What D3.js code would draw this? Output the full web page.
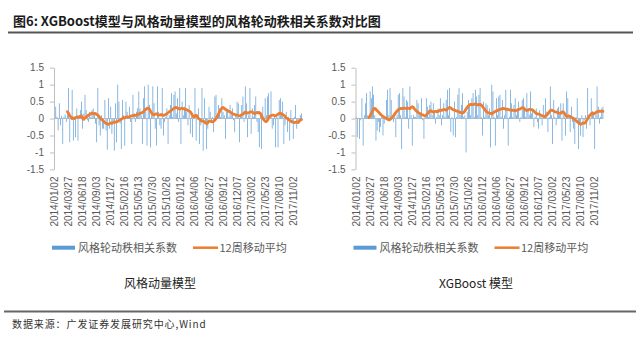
<!DOCTYPE html>
<html><head><meta charset="utf-8">
<script src="https://cdn.jsdelivr.net/npm/d3@7/dist/d3.min.js"></script>
<style>body{margin:0;background:#fff}svg{display:block}</style>
</head><body>
<svg id="chart" width="640" height="345"></svg>
<script>
// ---------------- data ----------------
const tickLabels = ["2014/01/02","2014/03/27","2014/06/18","2014/09/03","2014/11/27","2015/02/16","2015/05/13","2015/07/30","2015/10/26","2016/01/12","2016/04/06","2016/06/27","2016/09/12","2016/12/07","2017/03/02","2017/05/23","2017/08/10","2017/11/02"];
const labelEvery = 12;
const yTicks = [1.5, 1, 0.5, 0, -0.5, -1, -1.5];
const seriesNames = ["风格轮动秩相关系数", "12周移动平均"];
const panelTitles = ["风格动量模型", "XGBoost 模型"];
const maStart = 11;

const momentumBars = [
 0.5,0.35,0.05,-0.35,0.45,-0.2,0.08,-0.75,0.05,0.12,-0.1,0.2,
 0.9,-0.7,0.1,0.85,-0.65,0.05,-0.55,0.3,-0.65,0.1,0.25,0.5,
 -0.3,0.15,0.7,0.25,-0.05,-0.1,0.2,0.05,0.25,0.3,0.1,-0.15,
 -0.7,0.9,-0.2,-0.5,0.1,-0.3,-0.3,0.55,-0.35,-0.92,0.6,-0.3,
 0.35,-0.45,-0.1,-0.95,0.45,-0.7,1.0,0.5,-0.15,-0.9,0.55,0.1,
 -0.8,0.5,0.2,0.05,0.35,-0.1,-0.75,0.7,0.15,-0.1,0.2,0.3,
 0.8,0.3,0.1,-0.75,0.6,0.95,0.2,-0.8,1.0,0.4,-0.85,0.1,
 0.95,0.45,-0.3,-0.8,0.95,0.2,-0.2,-0.3,0.9,-0.5,-0.1,0.05,
 0.3,-0.75,0.1,0.4,0.75,0.05,0.7,0.8,0.15,0.6,-0.1,0.9,
 -0.75,0.5,0.1,0.35,0.9,0.2,-0.2,0.4,-0.45,0.05,-0.55,0.1,
 0.9,-0.65,0.05,0.3,-0.75,-0.2,0.9,-0.95,0.6,-0.1,-0.9,-0.3,
 0.35,0.2,-0.1,0.05,-0.4,0.65,0.7,0.1,0.4,0.3,0.05,0.6,
 0.2,0.1,-0.6,0.3,0.2,0.05,0.4,0.1,0.3,-0.05,-0.4,0.15,
 0.5,0.45,-0.7,0.05,0.4,0.65,-0.1,0.95,0.45,-0.55,0.1,0.9,
 -0.45,0.3,0.05,0.4,0.65,-0.1,-0.4,-0.85,0.1,-0.9,0.35,0.05,
 0.6,0.1,0.65,0.75,0.05,0.8,-0.3,-0.2,0.1,-0.85,0.05,-0.85,
 0.55,0.6,0.1,0.5,-0.75,-0.2,0.2,-0.4,0.05,-0.65,0.25,-0.1,
 -0.6,0.05,0.4,-0.3,-0.1,-0.15,0.1,0.15
];
const momentumMA = [
 0.2,0.15,0.08,0.04,0.0,0.02,0.0,0.03,0.04,0.05,
 0.04,0.06,0.08,0.0,-0.02,0.02,0.04,0.07,0.1,0.12,
 0.14,0.16,0.15,0.14,0.15,0.12,0.1,0.06,0.02,-0.02,
 -0.05,-0.08,-0.12,-0.14,-0.16,-0.17,-0.15,-0.13,-0.14,-0.12,
 -0.1,-0.11,-0.1,-0.08,-0.06,-0.04,-0.02,0.0,0.03,0.02,
 0.04,0.05,0.04,0.05,0.07,0.08,0.09,0.1,0.09,0.1,
 0.12,0.13,0.15,0.16,0.18,0.2,0.24,0.27,0.3,0.31,
 0.28,0.22,0.16,0.12,0.11,0.13,0.14,0.12,0.1,0.1,
 0.12,0.1,0.09,0.11,0.12,0.14,0.17,0.2,0.22,0.25,
 0.27,0.3,0.32,0.33,0.31,0.29,0.28,0.3,0.3,0.29,
 0.28,0.27,0.26,0.24,0.22,0.2,0.15,0.08,0.05,0.08,
 0.1,0.05,0.0,-0.02,-0.05,-0.08,-0.07,-0.1,-0.13,-0.15,
 -0.12,-0.08,-0.07,-0.09,-0.1,-0.08,-0.05,0.0,0.06,0.12,
 0.2,0.26,0.31,0.33,0.3,0.27,0.25,0.23,0.21,0.2,
 0.17,0.14,0.13,0.12,0.1,0.1,0.09,0.08,0.09,0.11,
 0.13,0.16,0.19,0.18,0.16,0.17,0.19,0.2,0.19,0.17,
 0.14,0.16,0.18,0.17,0.18,0.15,0.08,0.0,-0.04,-0.08,
 -0.09,-0.05,0.02,0.07,0.08,0.1,0.1,0.09,0.08,0.1,
 0.13,0.15,0.16,0.14,0.12,0.1,0.06,0.02,0.0,-0.03,
 -0.05,-0.08,-0.1,-0.11,-0.12,-0.11,-0.1,-0.12,-0.08,-0.05,
 -0.03
];
const xgbBars = [
 0.05,-0.55,0.02,-0.6,-0.05,0.6,-0.8,0.1,0.45,0.75,0.1,0.05,
 0.8,0.6,0.95,0.7,0.1,-0.65,-0.35,-0.1,-0.4,-0.25,0.05,-0.5,
 -0.15,0.05,0.55,0.85,0.1,0.9,0.55,0.1,-0.1,0.05,-0.55,0.1,
 0.7,0.75,0.1,-0.9,0.9,0.65,0.05,0.55,0.5,-0.3,0.95,0.1,
 -0.8,0.1,0.05,0.05,0.55,0.45,0.1,0.15,0.6,-0.05,-0.6,0.1,
 0.6,0.35,0.05,0.4,0.5,0.1,0.45,0.2,-0.15,0.05,0.3,0.1,
 0.6,-0.2,0.1,0.45,0.05,0.55,0.85,0.1,0.9,-0.4,0.05,-0.5,
 0.5,-0.55,0.05,0.7,0.9,0.1,0.4,0.75,0.05,0.1,-1.0,0.2,
 0.55,0.35,0.1,0.6,0.75,0.05,0.85,0.65,0.1,0.7,0.9,0.05,
 -0.5,0.5,0.05,0.45,0.4,0.1,0.3,-0.85,1.0,0.8,0.05,-0.8,
 0.6,0.1,0.65,0.7,0.05,0.55,-0.3,0.1,0.85,0.3,-0.8,0.05,
 0.85,0.45,0.05,0.4,0.6,0.1,0.3,0.5,-0.1,0.05,0.55,0.6,
 0.35,0.05,0.75,0.3,0.1,0.8,0.15,0.3,-0.25,0.05,0.3,-0.1,
 -0.3,0.25,0.05,-0.2,0.4,0.1,0.6,0.2,-0.4,0.05,0.95,0.1,
 -0.75,0.55,0.05,-0.2,0.3,0.35,0.1,0.45,-0.65,0.45,0.05,-0.5,
 0.8,0.6,0.05,-0.4,0.35,-0.1,-0.3,-0.75,0.05,0.6,-0.9,-0.1,
 -0.5,0.1,-0.55,-0.05,0.1,-0.3,0.9,0.05,-0.2,0.6,0.2,0.1,
 -0.9,0.1,0.95,0.35,-0.15,0.05,0.3,0.35
];
const xgbMA = [
 0.03,0.08,0.15,0.22,0.28,0.3,0.27,0.23,0.2,0.16,
 0.12,0.09,0.06,0.04,0.02,0.0,-0.02,-0.04,-0.03,0.0,
 0.04,0.08,0.13,0.18,0.22,0.26,0.28,0.3,0.29,0.3,
 0.31,0.3,0.3,0.31,0.3,0.29,0.33,0.35,0.33,0.28,
 0.24,0.21,0.18,0.16,0.14,0.12,0.11,0.09,0.08,0.1,
 0.14,0.19,0.22,0.23,0.21,0.19,0.2,0.22,0.2,0.21,
 0.23,0.25,0.24,0.25,0.27,0.26,0.25,0.28,0.31,0.33,
 0.31,0.28,0.26,0.25,0.24,0.22,0.21,0.2,0.18,0.17,
 0.16,0.18,0.22,0.28,0.33,0.37,0.4,0.42,0.41,0.41,
 0.42,0.44,0.42,0.4,0.41,0.42,0.4,0.36,0.31,0.27,
 0.22,0.19,0.17,0.16,0.15,0.14,0.16,0.19,0.21,0.22,
 0.24,0.26,0.27,0.28,0.29,0.3,0.29,0.27,0.28,0.27,
 0.26,0.25,0.24,0.25,0.24,0.23,0.24,0.25,0.27,0.28,
 0.3,0.32,0.31,0.28,0.25,0.24,0.25,0.27,0.27,0.26,
 0.25,0.22,0.18,0.15,0.14,0.13,0.12,0.1,0.08,0.07,
 0.06,0.08,0.1,0.14,0.19,0.23,0.25,0.24,0.22,0.2,
 0.19,0.18,0.17,0.15,0.16,0.19,0.2,0.16,0.1,0.06,
 0.07,0.08,0.06,0.04,0.02,0.0,-0.03,-0.06,-0.09,-0.12,
 -0.15,-0.17,-0.15,-0.13,-0.14,-0.12,-0.06,0.0,0.06,0.1,
 0.14,0.17,0.13,0.15,0.18,0.2,0.21,0.22,0.21,0.22,
 0.21
];

// ---------------- drawing ----------------
const svg = d3.select("#chart");
const LAT = "'Liberation Sans', Arial, 'Noto Sans CJK SC', sans-serif";
const CJK = "'Noto Sans CJK SC', 'Liberation Sans', sans-serif";
const BLUE = "#5B9BD5", ORANGE = "#ED7D31", GRAY_TXT = "#595959";

// title
svg.append("text").attr("x", 13).attr("y", 25.5)
  .attr("font-family", CJK).attr("font-size", 13).attr("font-weight", "bold").attr("fill", "#1a1a1a")
  .text("图6:  XGBoost模型与风格动量模型的风格轮动秩相关系数对比图");
svg.append("line").attr("x1", 8).attr("x2", 633).attr("y1", 32.5).attr("y2", 32.5)
  .attr("stroke", "#555").attr("stroke-width", 2);

function drawPanel(axisX, bars, ma, title, titleX) {
  const g = svg.append("g");
  const n = bars.length;
  const x = d3.scaleBand().domain(d3.range(n)).range([axisX, axisX + 248]).padding(0);
  const y = d3.scaleLinear().domain([-1.5, 1.5]).range([169.4, 67.7]);
  const bw = x.bandwidth();
  const barW = bw * 0.6;

  // zero (category) axis line
  g.append("line").attr("x1", axisX).attr("x2", axisX + 248)
    .attr("y1", y(0)).attr("y2", y(0)).attr("stroke", "#C9C9C9").attr("stroke-width", 1);

  // bars
  g.append("g").selectAll("rect").data(bars).join("rect")
    .attr("x", (d, i) => x(i) + (bw - barW) / 2)
    .attr("y", d => y(Math.max(0, d)))
    .attr("width", barW)
    .attr("height", d => Math.abs(y(d) - y(0)))
    .attr("fill", BLUE);

  // y axis
  const ya = g.append("g").attr("transform", `translate(${axisX},0)`)
    .call(d3.axisLeft(y).tickValues(yTicks).tickSize(4).tickSizeOuter(0).tickPadding(6).tickFormat(d => String(d)));
  ya.select(".domain").attr("stroke", "#BFBFBF");
  ya.selectAll(".tick line").attr("stroke", "#BFBFBF");
  ya.selectAll("text").attr("font-family", LAT).attr("font-size", 10).attr("fill", GRAY_TXT);

  // x labels
  const tickIdx = tickLabels.map((t, k) => k * labelEvery);
  g.append("g").selectAll("text").data(tickIdx).join("text")
    .attr("transform", d => `translate(${x(d) + bw / 2},176.5) rotate(-90)`)
    .attr("text-anchor", "end").attr("dy", "0.35em")
    .attr("font-family", LAT).attr("font-size", 10).attr("fill", GRAY_TXT)
    .text((d, k) => tickLabels[k]);

  // moving-average line
  const line = d3.line().x((d, i) => x(i + maStart) + bw / 2).y(d => y(d)).curve(d3.curveLinear);
  g.append("path").datum(ma).attr("d", line).attr("fill", "none")
    .attr("stroke", ORANGE).attr("stroke-width", 2.8).attr("stroke-linejoin", "round").attr("stroke-linecap", "round");

  // legend
  const ly = 247.7;
  g.append("rect").attr("x", axisX - 2).attr("y", ly - 2).attr("width", 23).attr("height", 4).attr("fill", BLUE);
  g.append("text").attr("x", axisX + 24).attr("y", ly).attr("dy", "0.35em")
    .attr("font-family", CJK).attr("font-size", 11).attr("fill", GRAY_TXT).text(seriesNames[0]);
  g.append("line").attr("x1", axisX + 139).attr("x2", axisX + 164).attr("y1", ly).attr("y2", ly)
    .attr("stroke", ORANGE).attr("stroke-width", 2.5);
  g.append("text").attr("x", axisX + 165.5).attr("y", ly).attr("dy", "0.35em")
    .attr("font-family", CJK).attr("font-size", 11).attr("fill", GRAY_TXT).text(seriesNames[1]);

  // panel title
  g.append("text").attr("x", titleX).attr("y", 284).attr("dy", "0.35em").attr("text-anchor", "middle")
    .attr("font-family", CJK).attr("font-size", 12).attr("fill", "#222").text(title);
}

drawPanel(54, momentumBars, momentumMA, panelTitles[0], 160);
drawPanel(355.5, xgbBars, xgbMA, panelTitles[1], 476);

// footer
svg.append("line").attr("x1", 4).attr("x2", 636).attr("y1", 311.5).attr("y2", 311.5)
  .attr("stroke", "#666").attr("stroke-width", 2);
svg.append("text").attr("x", 12).attr("y", 324).attr("dy", "0.35em")
  .attr("font-family", CJK).attr("font-size", 10).attr("letter-spacing", 0.9).attr("fill", "#333")
  .text("数据来源：广发证券发展研究中心,Wind");
</script>
</body></html>
